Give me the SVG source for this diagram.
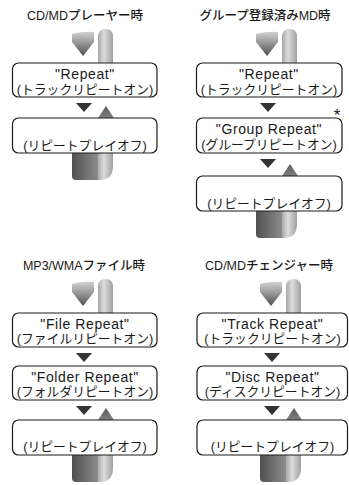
<svg xmlns="http://www.w3.org/2000/svg" xmlns:xlink="http://www.w3.org/1999/xlink" width="349" height="485" viewBox="0 0 349 485">
<style>
  .box { fill: #fff; stroke: #1a1a1a; stroke-width: 1.2; }
  .t { font-family: "Liberation Sans", "Noto Sans CJK JP", sans-serif; fill: #1a1a1a; text-anchor: middle; }
  .title { font-size: 12.5px; font-weight: 500; }
  .en { font-size: 14px; letter-spacing: 0.6px; }
  .jp { font-size: 12.8px; }
  .down { fill: #333; }
  .star { font-family: "Liberation Sans", sans-serif; font-size: 17px; fill: #1a1a1a; text-anchor: middle; }
</style>
<defs>
  <linearGradient id="gArrow" x1="0" y1="0" x2="0" y2="1">
    <stop offset="0" stop-color="#d2d2d2"/>
    <stop offset="0.45" stop-color="#9a9a9a"/>
    <stop offset="1" stop-color="#4e4e4e"/>
  </linearGradient>
  <linearGradient id="gBack" x1="0" y1="0" x2="1" y2="0">
    <stop offset="0" stop-color="#a8a8a8"/>
    <stop offset="0.4" stop-color="#dcdcdc"/>
    <stop offset="1" stop-color="#a0a0a0"/>
  </linearGradient>
  <linearGradient id="gDark" x1="0" y1="0" x2="1" y2="0">
    <stop offset="0" stop-color="#505050"/>
    <stop offset="1" stop-color="#8c8c8c"/>
  </linearGradient>
  <linearGradient id="gUp" x1="0" y1="0" x2="0" y2="1">
    <stop offset="0" stop-color="#5a5a5a"/>
    <stop offset="1" stop-color="#808080"/>
  </linearGradient>
  <g id="topLoop">
    <path d="M14,0 L14,-26 Q14,-34 21.5,-34 Q29,-34 29,-26 L29,0 Z" fill="url(#gBack)"/>
    <path d="M-12,-29 Q-1,-32 10,-31 L10,-21 L-1,-7 L-12,-21 Z" fill="url(#gArrow)"/>
  </g>
  <g id="bottomLoop">
    <path d="M-12,0 L14,0 L14,27 L-8,27 Q-12,27 -12,23 Z" fill="url(#gDark)"/>
    <path d="M14,0 L29,0 L29,13 Q29,27 16,27 L14,27 Z" fill="url(#gBack)"/>
  </g>
  <path id="downTri" d="M-8,6 L8,6 L0,15 Z"/>
  <path id="upTri" d="M14,0 L30,0 L22,-12 Z"/>
</defs>

<!-- Panel 1 -->
<g id="panel1-title"><text class="t title" x="85" y="20">CD/MDプレーヤー時</text></g>
<g id="p1-connectors">
  <use xlink:href="#topLoop" transform="translate(84,63)"/>
  <use xlink:href="#downTri" class="down" transform="translate(84,97)"/>
  <use xlink:href="#upTri" fill="url(#gUp)" transform="translate(84,118)"/>
  <use xlink:href="#bottomLoop" transform="translate(84,153)"/>
</g>
<g id="p1-repeat">
  <rect class="box" x="12.5" y="63" width="144.5" height="34" rx="6"/>
  <text class="t en" x="85" y="78.5">"Repeat"</text>
  <text class="t jp" x="85" y="93.5">(トラックリピートオン)</text>
</g>
<g id="p1-off">
  <rect class="box" x="12.5" y="118" width="144.5" height="35" rx="6"/>
  <text class="t jp" x="85" y="149.5">(リピートプレイオフ)</text>
</g>

<!-- Panel 2 -->
<g id="panel2-title"><text class="t title" x="265" y="20">グループ登録済みMD時</text></g>
<g id="p2-connectors">
  <use xlink:href="#topLoop" transform="translate(268,63)"/>
  <use xlink:href="#downTri" class="down" transform="translate(268,97)"/>
  <use xlink:href="#downTri" class="down" transform="translate(268,153)"/>
  <use xlink:href="#upTri" fill="url(#gUp)" transform="translate(268,176)"/>
  <use xlink:href="#bottomLoop" transform="translate(268,211)"/>
</g>
<g id="p2-repeat">
  <rect class="box" x="196.5" y="63" width="145.5" height="34" rx="6"/>
  <text class="t en" x="269" y="78.5">"Repeat"</text>
  <text class="t jp" x="269" y="93.5">(トラックリピートオン)</text>
</g>
<g id="p2-group">
  <rect class="box" x="196.5" y="118" width="145.5" height="35" rx="6"/>
  <text class="t en" x="269" y="133.5">"Group Repeat"</text>
  <text class="t jp" x="269" y="149">(グループリピートオン)</text>
  <text class="star" x="337" y="121">*</text>
</g>
<g id="p2-off">
  <rect class="box" x="196.5" y="176" width="145.5" height="35" rx="6"/>
  <text class="t jp" x="269" y="207.5">(リピートプレイオフ)</text>
</g>

<!-- Panel 3 -->
<g id="panel3-title"><text class="t title" x="84" y="270">MP3/WMAファイル時</text></g>
<g id="p3-connectors">
  <use xlink:href="#topLoop" transform="translate(84,313)"/>
  <use xlink:href="#downTri" class="down" transform="translate(84,347)"/>
  <use xlink:href="#downTri" class="down" transform="translate(84,400)"/>
  <use xlink:href="#upTri" fill="url(#gUp)" transform="translate(84,420)"/>
  <use xlink:href="#bottomLoop" transform="translate(84,455)"/>
</g>
<g id="p3-file">
  <rect class="box" x="12.5" y="313" width="144.5" height="34" rx="6"/>
  <text class="t en" x="85" y="328.5">"File Repeat"</text>
  <text class="t jp" x="85" y="343">(ファイルリピートオン)</text>
</g>
<g id="p3-folder">
  <rect class="box" x="12.5" y="366" width="144.5" height="34" rx="6"/>
  <text class="t en" x="85" y="381.5">"Folder Repeat"</text>
  <text class="t jp" x="85" y="396">(フォルダリピートオン)</text>
</g>
<g id="p3-off">
  <rect class="box" x="12.5" y="420" width="144.5" height="35" rx="6"/>
  <text class="t jp" x="85" y="451">(リピートプレイオフ)</text>
</g>

<!-- Panel 4 -->
<g id="panel4-title"><text class="t title" x="269" y="270">CD/MDチェンジャー時</text></g>
<g id="p4-connectors">
  <use xlink:href="#topLoop" transform="translate(272,313)"/>
  <use xlink:href="#downTri" class="down" transform="translate(272,347)"/>
  <use xlink:href="#downTri" class="down" transform="translate(272,400)"/>
  <use xlink:href="#upTri" fill="url(#gUp)" transform="translate(272,420)"/>
  <use xlink:href="#bottomLoop" transform="translate(272,455)"/>
</g>
<g id="p4-track">
  <rect class="box" x="197" y="313" width="150.5" height="34" rx="6"/>
  <text class="t en" x="272.5" y="328.5">"Track Repeat"</text>
  <text class="t jp" x="272.5" y="343">(トラックリピートオン)</text>
</g>
<g id="p4-disc">
  <rect class="box" x="197" y="366" width="150.5" height="34" rx="6"/>
  <text class="t en" x="272.5" y="381.5">"Disc Repeat"</text>
  <text class="t jp" x="272.5" y="396">(ディスクリピートオン)</text>
</g>
<g id="p4-off">
  <rect class="box" x="197" y="420" width="150.5" height="35" rx="6"/>
  <text class="t jp" x="272.5" y="451">(リピートプレイオフ)</text>
</g>
</svg>
